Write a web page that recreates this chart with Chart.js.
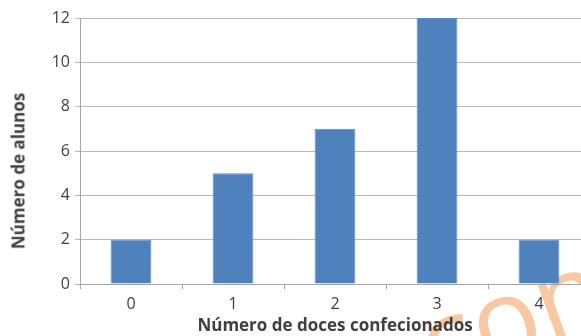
<!DOCTYPE html>
<html><head><meta charset="utf-8">
<script src="https://cdn.jsdelivr.net/npm/chart.js@4"></script>
<style>
html,body{margin:0;padding:0;background:#fff;overflow:hidden;width:581px;height:336px;}
#wrap{position:relative;width:581px;height:336px;overflow:hidden;}
canvas{position:absolute;left:0;top:0;}
#ytitle{position:absolute;left:18px;top:171px;transform:translate(-50%,-50%) rotate(-90deg);font:bold 17px "Open Sans";color:#404040;white-space:nowrap;}
#wm{position:absolute;left:440px;top:286px;font:400 112px/1 "Open Sans";color:#f8c8a2;transform:rotate(-20deg);transform-origin:0 100%;white-space:nowrap;}
</style></head>
<body><div id="wrap"><div id="wm">con</div><canvas id="c" width="590" height="336"></canvas><div id="ytitle">Número de alunos</div></div>
<script>
const categories = ['0','1','2','3','4'];
const values = [2,5,7,12,2];
const yTicks = [0,2,4,6,8,10,12];
const xTitle = 'Número de doces confecionados';

new Chart(document.getElementById('c'), {
  type:'bar',
  data:{labels:categories,datasets:[{data:values,backgroundColor:'#4f81bd',borderColor:'#5a8ac4',borderWidth:1,barPercentage:0.4,categoryPercentage:1}]},
  options:{
    responsive:false,animation:false,devicePixelRatio:1,
    layout:{padding:{top:18,right:0,bottom:0,left:0}},
    plugins:{legend:{display:false},tooltip:{enabled:false}},
    scales:{
      x:{
        grid:{offset:true,drawOnChartArea:false,drawTicks:true,tickLength:5,color:'#a6a6a6'},
        border:{color:'#a6a6a6'},
        ticks:{font:{family:'Open Sans',size:16},color:'#404040',padding:6},
        title:{display:true,text:xTitle,font:{family:'Open Sans',size:17,weight:'bold'},color:'#404040',padding:{top:0,bottom:0}},
        afterFit:s=>{s.height=52;}
      },
      y:{
        min:0,max:12,
        afterBuildTicks:s=>{s.ticks=yTicks.map(v=>({value:v}));},
        grid:{color:'#b8b8b8',tickLength:5},
        border:{color:'#a6a6a6'},
        ticks:{font:{family:'Open Sans',size:16},color:'#404040',padding:5},
        afterFit:s=>{s.width=80;}
      }
    }
  }
});
</script></body></html>
